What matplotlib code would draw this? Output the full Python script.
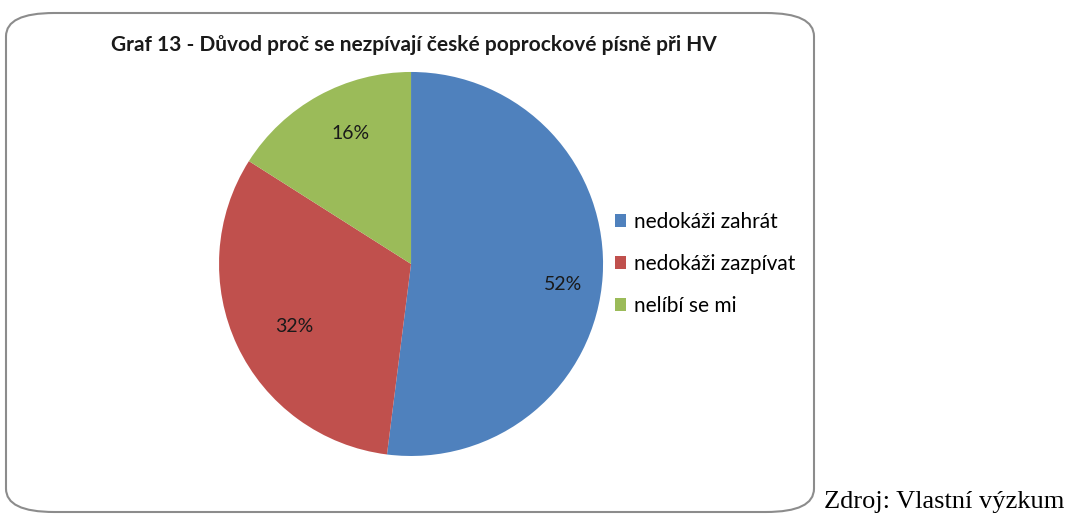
import matplotlib
matplotlib.use("Agg")
import numpy as np
import matplotlib.pyplot as plt
from matplotlib.patches import FancyBboxPatch, Patch

# data
labels = ["nedokáži zahrát", "nedokáži zazpívat", "nelíbí se mi"]
values = [52, 32, 16]
colors = ["#4F81BD", "#C0504D", "#9BBB59"]
title = "Graf 13 - Důvod proč se nezpívají české poprockové písně při HV"
source = "Zdroj: Vlastní výzkum"

plt.rcParams['font.family'] = ['Lato', 'DejaVu Sans']

fig = plt.figure(figsize=(10.7, 5.2), dpi=100)

# rounded chart frame, behind everything
frame = FancyBboxPatch((6 / 1070, 1 - 512 / 520), 808 / 1070, 499 / 520,
                       boxstyle="round,pad=0,rounding_size=0.045",
                       transform=fig.transFigure, facecolor="white",
                       edgecolor="#8c8c8c", linewidth=1.5,
                       mutation_aspect=520 / 1070 * 2.05, zorder=-5)
fig.patches.append(frame)

ax = fig.add_axes([0.2047, 0.1231, 0.3589, 0.7385])
ax.set_zorder(2)
ax.patch.set_visible(False)
wedges, texts, autotexts = ax.pie(values, colors=colors, startangle=90, counterclock=False,
                                  autopct="%d%%", pctdistance=0.76,
                                  wedgeprops=dict(linewidth=0),
                                  textprops=dict(fontsize=14, color="#1a1a1a"))

# excel "best fit" style label placement (slightly off the wedge middle)
label_dist = [0.80, 0.69, 0.75]
label_shift = [-4, 3, -4]   # degrees
for w, t, d, s in zip(wedges, autotexts, label_dist, label_shift):
    ang = np.deg2rad((w.theta1 + w.theta2) / 2 + s)
    t.set_position((d * np.cos(ang), d * np.sin(ang)))

ax.set_xlim(-1, 1)
ax.set_ylim(-1, 1)
ax.set_aspect("equal")

fig.text(414 / 1070, 1 - 45 / 520, title, ha="center", va="center",
         fontsize=15, fontweight="bold", color="#1a1a1a")

handles = [Patch(facecolor=c, edgecolor="none") for c in colors]
fig.legend(handles, labels, loc="center left", bbox_to_anchor=(596 / 1070, 1 - 264 / 520),
           frameon=False, fontsize=15, handlelength=0.55, handleheight=0.55,
           handletextpad=0.35, labelspacing=1.05)

fig.text(824 / 1070, 1 - 502 / 520, source, ha="left", va="center",
         fontsize=19, family="Liberation Serif")

fig.savefig("out.png", dpi=100)
